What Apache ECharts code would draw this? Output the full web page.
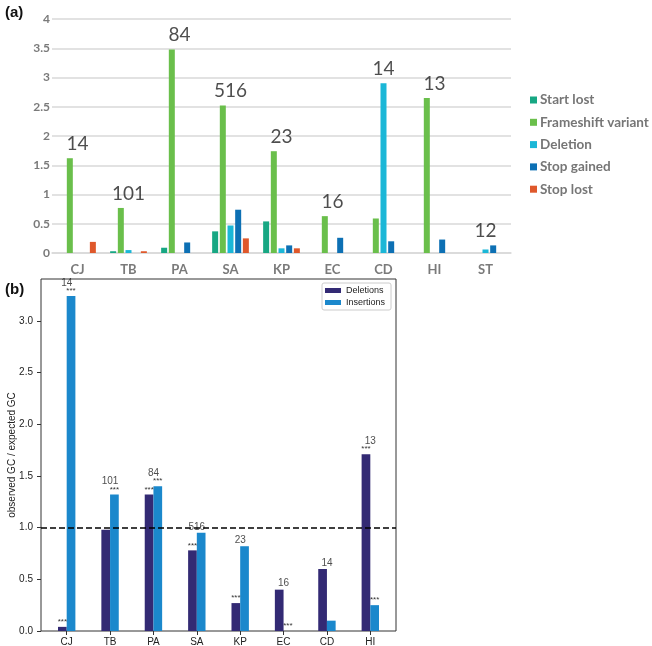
<!DOCTYPE html>
<html>
<head>
<meta charset="utf-8">
<style>
  html, body { margin: 0; padding: 0; background: #fff; }
  #chart { width: 652px; height: 646px; }
</style>
<script src="https://cdn.jsdelivr.net/npm/echarts@6/dist/echarts.min.js"></script>
</head>
<body>
<div id="chart"></div>
<script>
// panel (a): variant types per species
const catsA = ['CJ', 'TB', 'PA', 'SA', 'KP', 'EC', 'CD', 'HI', 'ST'];
const startLost = [0, 0.03, 0.09, 0.37, 0.54, 0, 0, 0, 0];
const frameshift = [1.62, 0.77, 3.48, 2.52, 1.74, 0.63, 0.59, 2.65, 0];
const deletionA = [0, 0.05, 0, 0.47, 0.08, 0, 2.90, 0, 0.06];
const stopGained = [0, 0, 0.18, 0.74, 0.13, 0.26, 0.20, 0.23, 0.13];
const stopLost = [0.19, 0.03, 0, 0.25, 0.08, 0, 0, 0, 0];
const countsA = [14, 101, 84, 516, 23, 16, 14, 13, 12];

// panel (b): observed GC / expected GC
const catsB = ['CJ', 'TB', 'PA', 'SA', 'KP', 'EC', 'CD', 'HI'];
const deletionsB = [0.04, 0.98, 1.32, 0.78, 0.27, 0.40, 0.60, 1.71];
const insertionsB = [3.24, 1.32, 1.40, 0.95, 0.82, 0, 0.10, 0.25];
const starsDel = [1, 0, 1, 1, 1, 0, 0, 1];
const starsIns = [1, 1, 1, 0, 0, 1, 0, 1];
const countsB = [14, 101, 84, 516, 23, 16, 14, 13];

const seriesA = [
  { name: 'Start lost', data: startLost, color: '#17a783' },
  { name: 'Frameshift variant', data: frameshift, color: '#6abf4b' },
  { name: 'Deletion', data: deletionA, color: '#1bb7d7' },
  { name: 'Stop gained', data: stopGained, color: '#0d70b4' },
  { name: 'Stop lost', data: stopLost, color: '#df582b' }
];

const chart = echarts.init(document.getElementById('chart'));

let series = [];
seriesA.forEach(function (s) {
  series.push({
    name: s.name,
    type: 'bar',
    xAxisIndex: 0,
    yAxisIndex: 0,
    barWidth: 6,
    barGap: '28%',
    itemStyle: { color: s.color },
    data: s.data
  });
});

// count labels above each group (panel a)
let maxA = catsA.map(function (c, i) {
  return Math.max(startLost[i], frameshift[i], deletionA[i], stopGained[i], stopLost[i]);
});
series.push({
  type: 'scatter',
  xAxisIndex: 0,
  yAxisIndex: 0,
  symbolSize: 0,
  silent: true,
  label: {
    show: true,
    position: 'top',
    distance: 5,
    fontFamily: 'Lato',
    fontSize: 19,
    color: '#222',
    formatter: function (p) { return countsA[p.dataIndex]; }
  },
  data: maxA
});

// panel b bars
function starLabel(flags) {
  return {
    show: true,
    position: 'top',
    distance: 1,
    fontSize: 8,
    color: '#333',
    formatter: function (p) { return flags[p.dataIndex] ? '***' : ''; }
  };
}
series.push({
  name: 'Deletions',
  type: 'bar',
  xAxisIndex: 2,
  yAxisIndex: 2,
  barWidth: 8.7,
  barGap: '0%',
  itemStyle: { color: '#332a74' },
  label: starLabel(starsDel),
  data: deletionsB
});
series.push({
  name: 'Insertions',
  type: 'bar',
  xAxisIndex: 2,
  yAxisIndex: 2,
  barWidth: 8.7,
  barGap: '0%',
  itemStyle: { color: '#1b88cc' },
  label: starLabel(starsIns),
  data: insertionsB
});
series.push({
  type: 'scatter',
  xAxisIndex: 2,
  yAxisIndex: 2,
  symbolSize: 0,
  silent: true,
  label: {
    show: true,
    position: 'top',
    fontFamily: 'Liberation Sans',
    fontSize: 10,
    color: '#222',
    formatter: function (p) { return countsB[p.dataIndex]; }
  },
  data: catsB.map(function (c, i) {
    let d = deletionsB[i], ins = insertionsB[i];
    let starred = ins >= d ? starsIns[i] : starsDel[i];
    return { value: Math.max(d, ins), label: { distance: starred ? 8 : 1 } };
  })
});
// dashed reference line at 1.0 across the frame
series.push({
  type: 'line',
  xAxisIndex: 1,
  yAxisIndex: 1,
  data: [],
  silent: true,
  markLine: {
    silent: true,
    symbol: 'none',
    label: { show: false },
    lineStyle: { color: '#000', type: [6, 3], width: 1.5 },
    data: [{ yAxis: 1 }]
  }
});

const option = {
  animation: false,
  title: [
    { text: '(a)', left: 0, top: 0, textStyle: { fontSize: 15, fontWeight: 'bold', color: '#111', fontFamily: 'Liberation Sans' } },
    { text: '(b)', left: 0, top: 277, textStyle: { fontSize: 15, fontWeight: 'bold', color: '#111', fontFamily: 'Liberation Sans' } }
  ],
  legend: [
    {
      data: seriesA.map(function (s) { return s.name; }),
      orient: 'vertical',
      left: 530,
      top: 93,
      icon: 'rect',
      itemWidth: 7,
      itemHeight: 7,
      itemGap: 8.3,
      padding: 0,
      textStyle: { fontFamily: 'Lato', fontWeight: 'bold', fontSize: 13.5, color: '#767676', padding: [0, 0, 0, -2] }
    },
    {
      data: ['Deletions', 'Insertions'],
      orient: 'vertical',
      left: 322,
      top: 283,
      icon: 'rect',
      itemWidth: 16,
      itemHeight: 5,
      itemGap: 3,
      padding: [3, 6, 3, 3],
      borderColor: '#ccc',
      borderWidth: 1,
      borderRadius: 2,
      textStyle: { fontFamily: 'Liberation Sans', fontSize: 9, color: '#222' }
    }
  ],
  grid: [
    { left: 52, right: 141, top: 19, bottom: 393, outerBoundsMode: 'none' },
    { left: 41, right: 256, top: 279, bottom: 15, show: true, borderColor: '#333', borderWidth: 1, outerBoundsMode: 'none' },
    { left: 45, right: 260, top: 279, bottom: 15, outerBoundsMode: 'none' }
  ],
  xAxis: [
    {
      type: 'category',
      gridIndex: 0,
      data: catsA,
      axisLine: { lineStyle: { color: '#d9d9d9', width: 1.5 } },
      axisTick: { show: false },
      axisLabel: { fontFamily: 'Lato', fontWeight: 'bold', fontSize: 13, color: '#7a7a7a', margin: 10 }
    },
    { type: 'value', gridIndex: 1, min: 0, max: 1, show: false },
    {
      type: 'category',
      gridIndex: 2,
      data: catsB,
      axisLine: { show: false },
      axisTick: { show: true, alignWithLabel: true, length: 4, lineStyle: { color: '#333' } },
      axisLabel: { fontFamily: 'Liberation Sans', fontSize: 10, color: '#222', margin: 6 }
    }
  ],
  yAxis: [
    {
      type: 'value',
      gridIndex: 0,
      min: 0,
      max: 4,
      interval: 0.5,
      axisLine: { show: false },
      axisTick: { show: false },
      splitLine: { lineStyle: { color: '#d9d9d9', width: 1.5 } },
      axisLabel: { fontFamily: 'Lato', fontWeight: 'bold', fontSize: 12, color: '#7a7a7a', margin: 2 }
    },
    {
      type: 'value',
      gridIndex: 1,
      min: 0,
      max: 3.405,
      interval: 0.5,
      name: 'observed GC / expected GC',
      nameLocation: 'middle',
      nameGap: 24,
      nameMoveOverlap: false,
      nameTextStyle: { fontFamily: 'Liberation Sans', fontSize: 10, color: '#222' },
      axisLine: { show: false },
      axisTick: { show: true, inside: false, length: 4, lineStyle: { color: '#333' } },
      splitLine: { show: false },
      axisLabel: {
        fontFamily: 'Liberation Sans',
        fontSize: 10,
        color: '#222',
        margin: 8,
        showMaxLabel: false,
        formatter: function (v) { return v.toFixed(1); }
      }
    },
    { type: 'value', gridIndex: 2, min: 0, max: 3.405, show: false }
  ],
  series: series
};

chart.setOption(option);
</script>
</body>
</html>
